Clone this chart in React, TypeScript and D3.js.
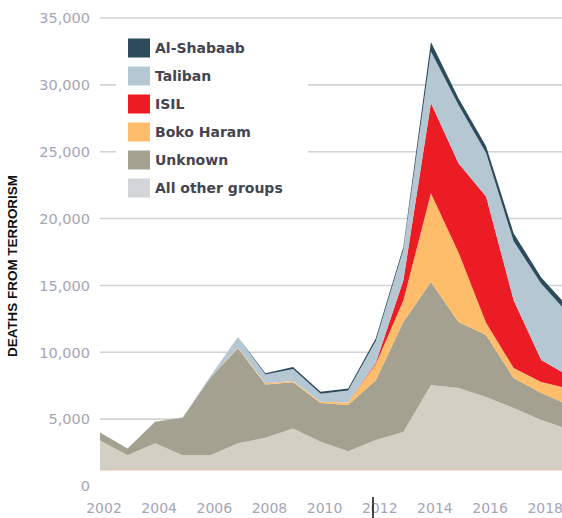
import * as d3 from "d3";

const years = [2002, 2003, 2004, 2005, 2006, 2007, 2008, 2009, 2010, 2011, 2012, 2013, 2014, 2015, 2016, 2017, 2018, 2019];

// deaths by group (stack order bottom -> top)
const otherGroups = [3400, 2300, 3200, 2300, 2300, 3200, 3600, 4300, 3300, 2600, 3440, 4040, 7550, 7330, 6660, 5830, 4940, 4230];
const unknown = [600, 500, 1600, 2800, 5800, 7100, 4000, 3450, 2900, 3450, 4460, 8230, 7710, 4940, 4640, 2250, 2020, 1820];
const bokoHaram = [0, 0, 0, 0, 0, 50, 80, 100, 100, 200, 1200, 1600, 6640, 5200, 900, 750, 820, 1220];
const isil = [0, 0, 0, 0, 0, 0, 0, 0, 0, 0, 100, 1500, 6750, 6670, 9450, 5070, 1650, 960];
const taliban = [0, 0, 30, 50, 100, 800, 650, 900, 600, 900, 1650, 2300, 3850, 4360, 3250, 4400, 5700, 4600];
const alShabaab = [0, 0, 0, 0, 0, 0, 100, 150, 150, 150, 200, 200, 700, 500, 500, 600, 470, 500];

const seriesKeys = ["other", "unknown", "boko", "isil", "taliban", "shabaab"];
const seriesNames: Record<string, string> = {
  shabaab: "Al-Shabaab",
  taliban: "Taliban",
  isil: "ISIL",
  boko: "Boko Haram",
  unknown: "Unknown",
  other: "All other groups",
};
const seriesColors: Record<string, string> = {
  shabaab: "#2c4b5b",
  taliban: "#b5c7d2",
  isil: "#ec1c24",
  boko: "#fdbd6b",
  unknown: "#a4a190",
  other: "#d2d0c4",
};
const legendKeys = ["shabaab", "taliban", "isil", "boko", "unknown", "other"];

const yTicks = [0, 5000, 10000, 15000, 20000, 25000, 30000, 35000];
const xTicks = [2002, 2004, 2006, 2008, 2010, 2012, 2014, 2016, 2018];

const width = 562;
const height = 518;

export default function App() {
  const x = d3.scaleLinear().domain([2002, 2019]).range([100, 568.8]);
  const y = d3.scaleLinear().domain([0, 35000]).range([486, 18]);
  const floor = y.invert(470); // the areas stop short of zero in the original

  const rows = years.map((yr, i) => ({
    year: yr,
    other: otherGroups[i],
    unknown: unknown[i],
    boko: bokoHaram[i],
    isil: isil[i],
    taliban: taliban[i],
    shabaab: alShabaab[i],
  }));

  const stacked = d3.stack<any>().keys(seriesKeys)(rows);

  const area = d3
    .area<any>()
    .x((d) => x(d.data.year))
    .y0((d) => y(Math.max(d[0], floor)))
    .y1((d) => y(d[1]));

  const fmt = d3.format(",");

  return (
    <svg
      width={width}
      height={height}
      style={{ position: "absolute", left: 0, top: 0, background: "#fff" }}
    >
      {/* gridlines */}
      {yTicks
        .filter((t) => t > 0)
        .map((t) => (
          <line
            key={t}
            x1={100}
            x2={width}
            y1={y(t)}
            y2={y(t)}
            stroke="#d2d2d2"
            strokeWidth={1.6}
          />
        ))}

      {/* areas */}
      {stacked.map((s) => (
        <path key={s.key} d={area(s) || ""} fill={seriesColors[s.key]} />
      ))}
      <line x1={100} x2={width} y1={y(floor)} y2={y(floor)} stroke="#e9bdb4" strokeWidth={1} />

      {/* y tick labels */}
      {yTicks.map((t) => (
        <text
          key={t}
          x={90}
          y={y(t)}
          dy="0.36em"
          textAnchor="end"
          fontFamily="DejaVu Sans"
          fontSize={14.5}
          fill="#a5a5b7"
        >
          {fmt(t)}
        </text>
      ))}

      {/* x tick labels */}
      {xTicks.map((t) => (
        <text
          key={t}
          x={x(t) + 4}
          y={513}
          textAnchor="middle"
          fontFamily="DejaVu Sans"
          fontSize={14}
          fill="#a5a5b7"
        >
          {t}
        </text>
      ))}

      {/* y axis title */}
      <text
        transform="translate(17,266) rotate(-90)"
        textAnchor="middle"
        fontFamily="Liberation Sans"
        fontWeight="bold"
        fontSize={12}
        textLength={182}
        lengthAdjust="spacingAndGlyphs"
        fill="#111"
      >
        DEATHS FROM TERRORISM
      </text>

      {/* legend */}
      <rect x={116} y={30} width={192} height={174} fill="#fff" />
      {legendKeys.map((k, i) => (
        <g key={k} transform={`translate(128,${48 + i * 28})`}>
          <rect x={0} y={-9.5} width={22} height={19} fill={k === "other" ? "#d4d5d7" : seriesColors[k]} />
          <text
            x={27}
            y={0}
            dy="0.36em"
            fontFamily="DejaVu Sans"
            fontWeight="bold"
            fontSize={14}
            fill="#454552"
          >
            {seriesNames[k]}
          </text>
        </g>
      ))}

      {/* text cursor artefact in the original screenshot */}
      <line x1={373} x2={373} y1={497} y2={518} stroke="#111" strokeWidth={1.5} />
    </svg>
  );
}
